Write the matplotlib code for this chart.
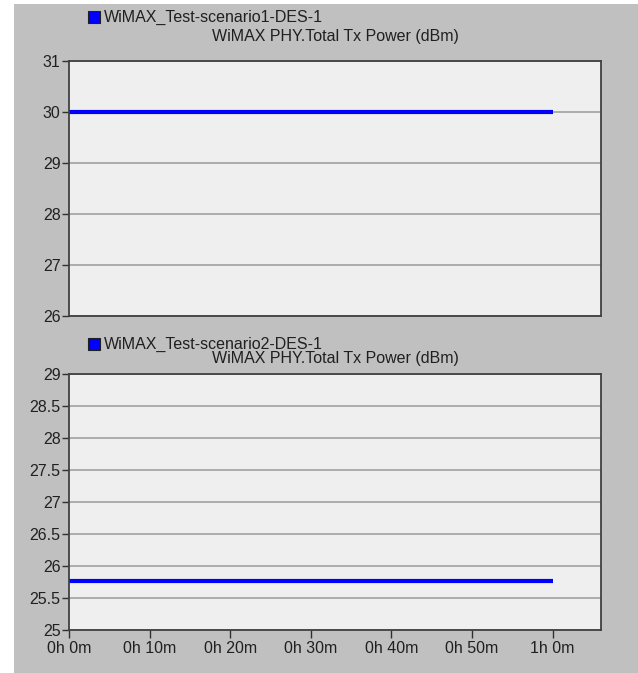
import matplotlib.pyplot as plt
from matplotlib.patches import Rectangle

plt.rcParams['font.family'] = ['Liberation Sans', 'DejaVu Sans']

# time in minutes
time_min = [0, 60]
power_s1 = [30.0, 30.0]

time_s2 = [0, 2, 4, 6, 8, 10, 12, 14, 16, 18, 20, 22, 24, 26, 28, 30,
           32, 34, 36, 38, 40, 42, 44, 46, 48, 50, 52, 54, 56, 58, 60]
power_s2 = [25.77, 25.76, 25.77, 25.77, 25.76, 25.77, 25.76, 25.77, 25.76,
            25.77, 25.77, 25.76, 25.77, 25.76, 25.76, 25.77, 25.76, 25.77,
            25.76, 25.76, 25.77, 25.76, 25.76, 25.77, 25.76, 25.77, 25.77,
            25.76, 25.77, 25.76, 25.76]

xticks = [0, 10, 20, 30, 40, 50, 60]
xlabels = ['0h 0m', '0h 10m', '0h 20m', '0h 30m', '0h 40m', '0h 50m', '1h 0m']

series_names = ['WiMAX_Test-scenario1-DES-1', 'WiMAX_Test-scenario2-DES-1']
stat_title = 'WiMAX PHY.Total Tx Power (dBm)'

FS = 11.5
W, H = 638, 673
fig = plt.figure(figsize=(W / 100, H / 100), dpi=100, facecolor='white')
fig.patches.append(Rectangle((14 / W, 0), 1 - 14 / W, 1 - 4 / H,
                             transform=fig.transFigure, facecolor='#c0c0c0',
                             edgecolor='none', zorder=-10))

ax1 = fig.add_axes([69 / W, 1 - 316 / H, 532 / W, 255 / H])
ax2 = fig.add_axes([69 / W, 1 - 630 / H, 532 / W, 256 / H])


def style(ax, ylim, yticks, ylabels):
    ax.set_facecolor('#efefef')
    ax.set_xlim(0, 66)
    ax.set_ylim(*ylim)
    ax.set_yticks(yticks)
    ax.set_yticklabels(ylabels)
    ax.grid(axis='y', color='#a6a6a6', linewidth=1.3)
    ax.set_axisbelow(True)
    for s in ax.spines.values():
        s.set_color('#404040')
        s.set_linewidth(1.3)
    ax.tick_params(axis='both', direction='out', length=5, width=1,
                   color='#303030', labelsize=FS, labelcolor='#202020', pad=1)


style(ax1, (26, 31), [26, 27, 28, 29, 30, 31], ['26', '27', '28', '29', '30', '31'])
ax1.set_xticks([])
ax1.plot(time_min, power_s1, color='#0000ff', linewidth=3, solid_capstyle='butt')

style(ax2, (25, 29), [25, 25.5, 26, 26.5, 27, 27.5, 28, 28.5, 29],
      ['25', '25.5', '26', '26.5', '27', '27.5', '28', '28.5', '29'])
ax2.set_xticks(xticks)
ax2.set_xticklabels(xlabels)
ax2.tick_params(axis='x', length=6, pad=2)
ax2.plot(time_s2, power_s2, color='#0000ff', linewidth=3,
         drawstyle='steps-post', solid_capstyle='butt')

# legend boxes and statistic titles above each panel
for ypix, tpix, name in [(17, 37, series_names[0]), (344, 358, series_names[1])]:
    fig.patches.append(Rectangle((88 / W, 1 - (ypix + 6) / H), 12 / W, 12 / H,
                                 transform=fig.transFigure, facecolor='#0000ff',
                                 edgecolor='#202020', linewidth=0.8))
    fig.text(104 / W, 1 - ypix / H, name, fontsize=FS, color='#202020',
             va='center', ha='left')
    fig.text(335 / W, 1 - tpix / H, stat_title, fontsize=FS, color='#202020',
             va='center', ha='center')

fig.savefig('out.png', dpi=100, facecolor=fig.get_facecolor())
